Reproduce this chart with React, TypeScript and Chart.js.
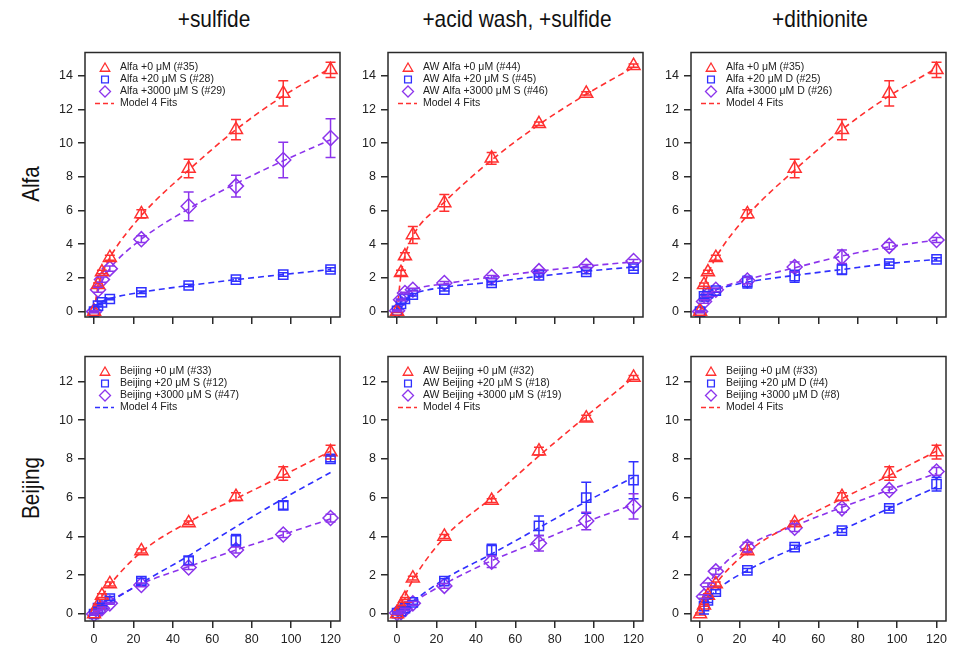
import React, { useEffect, useRef } from 'react';
import { Chart, registerables } from 'chart.js';

Chart.register(...registerables);

// ---------------- data ----------------
const TIMES = [0, 2, 4, 8, 24, 48, 72, 96, 120];
const X_TICKS = [0, 20, 40, 60, 80, 100, 120];
const Y_TICKS_ALFA = [0, 2, 4, 6, 8, 10, 12, 14];
const Y_TICKS_BEIJING = [0, 2, 4, 6, 8, 10, 12];
const COLUMN_TITLES = ['+sulfide', '+acid wash, +sulfide', '+dithionite'];
const ROW_LABELS = ['Alfa', 'Beijing'];
const FIT_LABEL = 'Model 4 Fits';

// Alfa, +sulfide
const a1Labels = ['Alfa +0 μM (#35)', 'Alfa +20 μM S (#28)', 'Alfa +3000 μM S (#29)'];
const a1Red = [0, 1.6, 2.35, 3.2, 5.8, 8.5, 10.8, 12.95, 14.35];
const a1RedErr = [0.05, 0.1, 0.1, 0.15, 0.25, 0.55, 0.6, 0.75, 0.45];
const a1RedFit = [0, 1.5, 2.2, 3.2, 5.7, 8.4, 10.8, 12.8, 14.45];
const a1Blue = [0, 0.35, 0.55, 0.75, 1.15, 1.55, 1.9, 2.2, 2.5];
const a1BlueErr = [0.05, 0.05, 0.05, 0.05, 0.08, 0.08, 0.1, 0.1, 0.1];
const a1BlueFit = [0.1, 0.45, 0.6, 0.78, 1.15, 1.55, 1.9, 2.2, 2.5];
const a1Purple = [0, 1.3, 1.9, 2.55, 4.3, 6.25, 7.45, 9.0, 10.3];
const a1PurpleErr = [0.05, 0.15, 0.15, 0.15, 0.2, 0.85, 0.65, 1.05, 1.15];
const a1PurpleFit = [0, 1.2, 1.8, 2.55, 4.3, 6.1, 7.6, 8.95, 10.2];

// Alfa, +acid wash, +sulfide
const a2Labels = ['AW Alfa +0 μM (#44)', 'AW Alfa +20 μM S (#45)', 'AW Alfa +3000 μM S (#46)'];
const a2Red = [0, 2.3, 3.3, 4.55, 6.45, 9.1, 11.15, 12.95, 14.6];
const a2RedErr = [0.05, 0.15, 0.2, 0.5, 0.5, 0.35, 0.1, 0.1, 0.1];
const a2RedFit = [0, 2.2, 3.3, 4.5, 6.5, 9.0, 11.1, 12.9, 14.5];
const a2Blue = [0.05, 0.45, 0.75, 1.0, 1.3, 1.7, 2.15, 2.35, 2.55];
const a2BlueErr = [0.05, 0.05, 0.05, 0.08, 0.08, 0.1, 0.1, 0.1, 0.1];
const a2BlueFit = [0, 0.55, 0.8, 1.05, 1.45, 1.75, 2.1, 2.4, 2.65];
const a2Purple = [0.05, 0.7, 1.1, 1.3, 1.7, 2.05, 2.4, 2.7, 3.0];
const a2PurpleErr = [0.05, 0.05, 0.05, 0.08, 0.08, 0.1, 0.1, 0.1, 0.1];
const a2PurpleFit = [0, 0.75, 1.05, 1.3, 1.65, 2.05, 2.4, 2.7, 2.95];

// Alfa, +dithionite
const a3Labels = ['Alfa +0 μM (#35)', 'Alfa +20 μM D (#25)', 'Alfa +3000 μM D (#26)'];
const a3Red = [0, 1.6, 2.35, 3.2, 5.8, 8.5, 10.8, 12.95, 14.35];
const a3RedErr = [0.05, 0.1, 0.1, 0.15, 0.25, 0.55, 0.6, 0.75, 0.45];
const a3RedFit = [0, 1.5, 2.2, 3.2, 5.7, 8.4, 10.8, 12.8, 14.45];
const a3Blue = [0, 0.9, 1.1, 1.25, 1.75, 2.1, 2.5, 2.85, 3.1];
const a3BlueErr = [0.05, 0.1, 0.1, 0.1, 0.35, 0.35, 0.3, 0.1, 0.1];
const a3BlueFit = [0, 0.9, 1.1, 1.3, 1.75, 2.15, 2.5, 2.85, 3.1];
const a3Purple = [0, 0.6, 1.0, 1.3, 1.85, 2.65, 3.25, 3.9, 4.25];
const a3PurpleErr = [0.05, 0.1, 0.1, 0.1, 0.2, 0.3, 0.4, 0.2, 0.15];
const a3PurpleFit = [0, 0.7, 1.0, 1.3, 1.9, 2.6, 3.3, 3.85, 4.25];

// Beijing, +sulfide
const b1Labels = ['Beijing +0 μM (#33)', 'Beijing +20 μM S (#12)', 'Beijing +3000 μM S (#47)'];
const b1Red = [0, 0.45, 0.95, 1.55, 3.25, 4.7, 6.05, 7.25, 8.35];
const b1RedErr = [0.05, 0.05, 0.1, 0.1, 0.1, 0.1, 0.2, 0.35, 0.35];
const b1RedFit = [0, 0.5, 0.9, 1.5, 3.2, 4.75, 5.95, 7.15, 8.4];
const b1Blue = [0, 0.3, 0.5, 0.8, 1.7, 2.75, 3.8, 5.6, 8.0];
const b1BlueErr = [0.05, 0.05, 0.05, 0.1, 0.15, 0.2, 0.3, 0.2, 0.15];
const b1BlueFit = [0, 0.15, 0.3, 0.6, 1.6, 3.0, 4.5, 5.95, 7.3];
const b1Purple = [0, 0.15, 0.3, 0.55, 1.5, 2.4, 3.3, 4.1, 4.95];
const b1PurpleErr = [0.05, 0.05, 0.05, 0.05, 0.1, 0.1, 0.15, 0.15, 0.2];
const b1PurpleFit = [0, 0.2, 0.35, 0.65, 1.55, 2.45, 3.3, 4.1, 4.9];

// Beijing, +acid wash, +sulfide
const b2Labels = ['AW Beijing +0 μM (#32)', 'AW Beijing +20 μM S (#18)', 'AW Beijing +3000 μM S (#19)'];
const b2Red = [0, 0.4, 0.8, 1.85, 4.0, 5.85, 8.4, 10.1, 12.2];
const b2RedErr = [0.05, 0.05, 0.05, 0.1, 0.1, 0.1, 0.2, 0.15, 0.1];
const b2RedFit = [0, 0.5, 0.95, 1.75, 3.95, 6.0, 8.15, 10.2, 12.2];
const b2Blue = [0.05, 0.15, 0.3, 0.6, 1.7, 3.3, 4.55, 6.0, 6.9];
const b2BlueErr = [0.05, 0.05, 0.05, 0.1, 0.12, 0.3, 0.5, 0.8, 0.95];
const b2BlueFit = [0, 0.17, 0.33, 0.65, 1.8, 3.1, 4.45, 5.8, 7.05];
const b2Purple = [0.05, 0.1, 0.25, 0.55, 1.45, 2.7, 3.65, 4.8, 5.55];
const b2PurpleErr = [0.05, 0.05, 0.05, 0.1, 0.12, 0.3, 0.4, 0.45, 0.65];
const b2PurpleFit = [0, 0.15, 0.3, 0.6, 1.55, 2.75, 3.75, 4.75, 5.65];

// Beijing, +dithionite
const b3Labels = ['Beijing +0 μM (#33)', 'Beijing +20 μM D (#4)', 'Beijing +3000 μM D (#8)'];
const b3Red = [0, 0.45, 0.95, 1.55, 3.25, 4.7, 6.05, 7.25, 8.35];
const b3RedErr = [0.05, 0.05, 0.1, 0.1, 0.1, 0.1, 0.2, 0.35, 0.35];
const b3RedFit = [null, 0.4, 0.85, 1.55, 3.2, 4.7, 5.95, 7.15, 8.4];
const b3Blue = [null, 0.4, 0.7, 1.15, 2.25, 3.45, 4.3, 5.45, 6.7];
const b3BlueErr = [0, 0.4, 0.1, 0.1, 0.1, 0.1, 0.1, 0.1, 0.35];
const b3BlueFit = [null, 0.45, 0.75, 1.2, 2.25, 3.4, 4.35, 5.45, 6.55];
const b3Purple = [null, 0.9, 1.5, 2.2, 3.45, 4.45, 5.45, 6.4, 7.35];
const b3PurpleErr = [0, 0.1, 0.1, 0.15, 0.25, 0.2, 0.2, 0.15, 0.2];
const b3PurpleFit = [null, 0.85, 1.4, 2.1, 3.5, 4.55, 5.5, 6.4, 7.25];

// ---------------- styling / layout ----------------
const RED = 'rgb(255,48,48)';
const BLUE = 'rgb(48,48,255)';
const PURPLE = 'rgb(140,52,236)';
const AXIS = '#2a2a2a';
const TEXT = '#222';
const FONT = '"Liberation Sans", Arial, sans-serif';

const COL_LEFTS = [85, 388, 691];
const ROW_TOPS = [50, 354];
const FRAME_W = 258;
const FRAME_H = 267;
const PAD_L = 50;
const PAD_T = 10;
const PAD_R = 6;
const PAD_B = 32;
const X_MIN = -4.6;
const X_MAX = 124.8;
const Y_RANGES = [
  { min: -0.32, max: 15.38 },
  { min: -0.36, max: 13.28 },
];

type PanelSpec = {
  row: number;
  col: number;
  labels: string[];
  series: { values: (number | null)[]; errors: number[]; fit: (number | null)[] }[];
  fitColor: string;
};

const PANELS: PanelSpec[] = [
  { row: 0, col: 0, labels: a1Labels, fitColor: RED, series: [
    { values: a1Red, errors: a1RedErr, fit: a1RedFit },
    { values: a1Blue, errors: a1BlueErr, fit: a1BlueFit },
    { values: a1Purple, errors: a1PurpleErr, fit: a1PurpleFit }] },
  { row: 0, col: 1, labels: a2Labels, fitColor: RED, series: [
    { values: a2Red, errors: a2RedErr, fit: a2RedFit },
    { values: a2Blue, errors: a2BlueErr, fit: a2BlueFit },
    { values: a2Purple, errors: a2PurpleErr, fit: a2PurpleFit }] },
  { row: 0, col: 2, labels: a3Labels, fitColor: RED, series: [
    { values: a3Red, errors: a3RedErr, fit: a3RedFit },
    { values: a3Blue, errors: a3BlueErr, fit: a3BlueFit },
    { values: a3Purple, errors: a3PurpleErr, fit: a3PurpleFit }] },
  { row: 1, col: 0, labels: b1Labels, fitColor: BLUE, series: [
    { values: b1Red, errors: b1RedErr, fit: b1RedFit },
    { values: b1Blue, errors: b1BlueErr, fit: b1BlueFit },
    { values: b1Purple, errors: b1PurpleErr, fit: b1PurpleFit }] },
  { row: 1, col: 1, labels: b2Labels, fitColor: RED, series: [
    { values: b2Red, errors: b2RedErr, fit: b2RedFit },
    { values: b2Blue, errors: b2BlueErr, fit: b2BlueFit },
    { values: b2Purple, errors: b2PurpleErr, fit: b2PurpleFit }] },
  { row: 1, col: 2, labels: b3Labels, fitColor: RED, series: [
    { values: b3Red, errors: b3RedErr, fit: b3RedFit },
    { values: b3Blue, errors: b3BlueErr, fit: b3BlueFit },
    { values: b3Purple, errors: b3PurpleErr, fit: b3PurpleFit }] },
];

const SERIES_COLORS = [RED, BLUE, PURPLE];
const SERIES_STYLES = ['triangle', 'rect', 'rectRot'];
const SERIES_RADII = [7.5, 6.5, 7.5];

function drawMarker(ctx: CanvasRenderingContext2D, style: string, x: number, y: number, r: number) {
  ctx.beginPath();
  if (style === 'triangle') {
    const w = Math.sin((2 * Math.PI) / 3) * r;
    ctx.moveTo(x, y - r);
    ctx.lineTo(x + w, y + r / 2);
    ctx.lineTo(x - w, y + r / 2);
    ctx.closePath();
  } else if (style === 'rect') {
    const s = r * Math.SQRT1_2;
    ctx.rect(x - s, y - s, 2 * s, 2 * s);
  } else {
    ctx.moveTo(x - r, y);
    ctx.lineTo(x, y - r);
    ctx.lineTo(x + r, y);
    ctx.lineTo(x, y + r);
    ctx.closePath();
  }
  ctx.stroke();
}

const framePlugin = {
  id: 'frame',
  afterDraw(chart: any) {
    const { ctx, chartArea } = chart;
    ctx.save();
    ctx.strokeStyle = AXIS;
    ctx.lineWidth = 1.5;
    ctx.strokeRect(chartArea.left, chartArea.top, chartArea.right - chartArea.left, chartArea.bottom - chartArea.top);
    ctx.restore();
  },
};

const errorBarPlugin = {
  id: 'errorBars',
  afterDatasetsDraw(chart: any) {
    const { ctx, chartArea } = chart;
    const yScale = chart.scales.y;
    ctx.save();
    ctx.beginPath();
    ctx.rect(chartArea.left, chartArea.top, chartArea.right - chartArea.left, chartArea.bottom - chartArea.top);
    ctx.clip();
    chart.data.datasets.forEach((ds: any, i: number) => {
      if (!ds.errors) return;
      const meta = chart.getDatasetMeta(i);
      ctx.strokeStyle = ds.borderColor;
      ctx.lineWidth = 1.5;
      meta.data.forEach((pt: any, j: number) => {
        const raw = ds.data[j];
        const e = ds.errors[j];
        if (!raw || !e) return;
        const x = pt.x;
        const yTop = yScale.getPixelForValue(raw.y + e);
        const yBot = yScale.getPixelForValue(raw.y - e);
        ctx.beginPath();
        ctx.moveTo(x, yTop);
        ctx.lineTo(x, yBot);
        ctx.moveTo(x - 5, yTop);
        ctx.lineTo(x + 5, yTop);
        ctx.moveTo(x - 5, yBot);
        ctx.lineTo(x + 5, yBot);
        ctx.stroke();
      });
    });
    ctx.restore();
  },
};

const legendPlugin = {
  id: 'panelLegend',
  afterDraw(chart: any) {
    const opts = chart.options.plugins.panelLegend;
    if (!opts) return;
    const { ctx, chartArea } = chart;
    const x0 = chartArea.left;
    const y0 = chartArea.top;
    ctx.save();
    ctx.font = `10.5px ${FONT}`;
    ctx.textBaseline = 'middle';
    ctx.textAlign = 'left';
    opts.labels.forEach((label: string, i: number) => {
      const y = y0 + 15 + 12 * i;
      ctx.strokeStyle = SERIES_COLORS[i];
      ctx.lineWidth = 1.3;
      drawMarker(ctx, SERIES_STYLES[i], x0 + 20, y + (i === 0 ? 1 : 0), i === 0 ? 5.5 : i === 1 ? 4.8 : 5.5);
      ctx.fillStyle = TEXT;
      ctx.fillText(label, x0 + 35, y);
    });
    const yf = y0 + 15 + 36;
    ctx.strokeStyle = opts.fitColor;
    ctx.lineWidth = 1.5;
    ctx.setLineDash([5, 3]);
    ctx.beginPath();
    ctx.moveTo(x0 + 10, yf);
    ctx.lineTo(x0 + 29, yf);
    ctx.stroke();
    ctx.setLineDash([]);
    ctx.fillStyle = TEXT;
    ctx.fillText(opts.fitLabel, x0 + 35, yf);
    ctx.restore();
  },
};

function toPoints(values: (number | null)[]) {
  const pts: { x: number; y: number }[] = [];
  values.forEach((v, i) => {
    if (v !== null) pts.push({ x: TIMES[i], y: v });
  });
  return pts;
}

function toErrors(values: (number | null)[], errors: number[]) {
  const out: number[] = [];
  values.forEach((v, i) => {
    if (v !== null) out.push(errors[i]);
  });
  return out;
}

function buildConfig(spec: PanelSpec): any {
  const datasets: any[] = [];
  spec.series.forEach((s, i) => {
    datasets.push({
      label: spec.labels[i],
      data: toPoints(s.values),
      errors: toErrors(s.values, s.errors),
      showLine: false,
      pointStyle: SERIES_STYLES[i],
      pointRadius: SERIES_RADII[i],
      pointBorderWidth: 1.5,
      borderColor: SERIES_COLORS[i],
      backgroundColor: 'rgba(0,0,0,0)',
      pointBackgroundColor: 'rgba(0,0,0,0)',
      order: 1,
    });
  });
  spec.series.forEach((s, i) => {
    datasets.push({
      label: 'fit',
      data: toPoints(s.fit),
      showLine: true,
      borderDash: [6, 4],
      borderWidth: 1.6,
      borderColor: SERIES_COLORS[i],
      pointRadius: 0,
      cubicInterpolationMode: 'monotone',
      fill: false,
      order: 2,
    });
  });
  const yTicks = spec.row === 0 ? Y_TICKS_ALFA : Y_TICKS_BEIJING;
  const yr = Y_RANGES[spec.row];
  const tickFont = { family: FONT, size: 12.5 };
  return {
    type: 'scatter',
    data: { datasets },
    plugins: [errorBarPlugin, legendPlugin, framePlugin],
    options: {
      animation: false,
      responsive: false,
      events: [],
      layout: { padding: { left: 0, top: PAD_T, right: PAD_R, bottom: 0 } },
      plugins: {
        legend: { display: false },
        tooltip: { enabled: false },
        panelLegend: { labels: spec.labels, fitColor: spec.fitColor, fitLabel: FIT_LABEL },
      },
      scales: {
        x: {
          type: 'linear',
          min: X_MIN,
          max: X_MAX,
          afterBuildTicks: (s: any) => { s.ticks = X_TICKS.map((v) => ({ value: v })); },
          afterFit: (s: any) => { s.height = PAD_B; },
          grid: { display: true, drawOnChartArea: false, drawTicks: true, tickLength: 7, color: AXIS, lineWidth: 1.5 },
          border: { display: false },
          ticks: {
            padding: 4,
            color: TEXT,
            font: tickFont,
            maxRotation: 0,
            autoSkip: false,
            callback: (v: any) => (spec.row === 1 ? String(v) : ''),
          },
        },
        y: {
          type: 'linear',
          min: yr.min,
          max: yr.max,
          afterBuildTicks: (s: any) => { s.ticks = yTicks.map((v) => ({ value: v })); },
          afterFit: (s: any) => { s.width = PAD_L; },
          grid: { display: true, drawOnChartArea: false, drawTicks: true, tickLength: 7, color: AXIS, lineWidth: 1.5 },
          border: { display: false },
          ticks: { padding: 5, color: TEXT, font: tickFont, autoSkip: false, callback: (v: any) => String(v) },
        },
      },
    },
  };
}

function Panel({ spec }: { spec: PanelSpec }) {
  const ref = useRef<HTMLCanvasElement>(null);
  const w = FRAME_W + PAD_L + PAD_R;
  const h = FRAME_H + PAD_T + PAD_B;
  useEffect(() => {
    const chart = new Chart(ref.current as HTMLCanvasElement, buildConfig(spec));
    return () => chart.destroy();
  }, [spec]);
  return (
    <div
      style={{
        position: 'absolute',
        left: COL_LEFTS[spec.col] - PAD_L,
        top: ROW_TOPS[spec.row] - PAD_T,
        width: w,
        height: h,
      }}
    >
      <canvas ref={ref} width={w} height={h} style={{ width: w, height: h, display: 'block' }} />
    </div>
  );
}

const titleFont = '"Liberation Sans Narrow", "Arial Narrow", "Liberation Sans", sans-serif';

export default function App() {
  return (
    <div style={{ position: 'absolute', left: 0, top: 0, width: 956, height: 646, background: '#fff', overflow: 'hidden' }}>
      {COLUMN_TITLES.map((t, c) => (
        <div
          key={t}
          style={{
            position: 'absolute',
            left: COL_LEFTS[c],
            top: 5,
            width: FRAME_W,
            textAlign: 'center',
            fontFamily: titleFont,
            fontSize: 24,
            lineHeight: '28px',
            color: '#111',
            whiteSpace: 'nowrap',
            transform: 'scaleX(0.87)',
            transformOrigin: 'center center',
          }}
        >
          {t}
        </div>
      ))}
      {ROW_LABELS.map((t, r) => (
        <div
          key={t}
          style={{
            position: 'absolute',
            left: 31,
            top: ROW_TOPS[r] + FRAME_H / 2,
            transform: 'translate(-50%, -50%) rotate(-90deg) scaleX(0.86)',
            fontFamily: titleFont,
            fontSize: 24,
            lineHeight: '28px',
            color: '#111',
            whiteSpace: 'nowrap',
          }}
        >
          {t}
        </div>
      ))}
      {PANELS.map((p) => (
        <Panel key={`${p.row}-${p.col}`} spec={p} />
      ))}
    </div>
  );
}
